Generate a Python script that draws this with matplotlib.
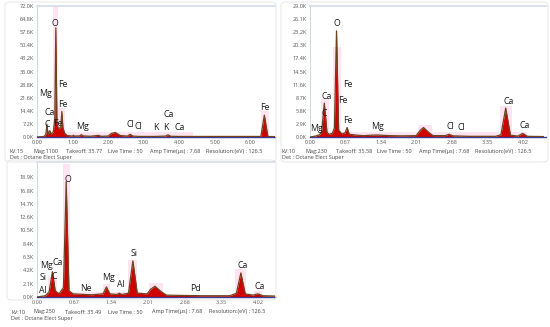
import matplotlib
matplotlib.use("Agg")
import matplotlib.pyplot as plt
from matplotlib.patches import FancyBboxPatch

plt.rcParams['font.family'] = ['Open Sans', 'DejaVu Sans']

# ---------------- data (energy keV, counts in thousands) ----------------
e1 = [0.0, 0.20, 0.25, 0.28, 0.31, 0.36, 0.40, 0.46, 0.50, 0.53, 0.56, 0.60, 0.64, 0.67, 0.70, 0.73,
      0.78, 0.85, 1.00, 1.02, 1.06, 1.20, 1.25, 1.30, 1.50, 1.74, 1.80, 2.00, 2.10, 2.20, 2.35, 2.55,
      2.62, 2.70, 2.90, 3.30, 3.62, 3.69, 3.76, 4.00, 5.00, 6.00, 6.30, 6.40, 6.50, 6.70]
c1 = [0.0, 0.3, 1.5, 7.0, 1.5, 3.5, 1.5, 3.0, 10.0, 60.0, 8.0, 4.5, 5.0, 5.5, 14.0, 5.0,
      2.0, 0.8, 0.5, 1.0, 0.5, 0.6, 1.3, 0.6, 0.4, 0.9, 0.4, 0.5, 2.0, 2.5, 0.8, 0.5,
      1.5, 0.5, 0.3, 0.3, 0.5, 1.2, 0.4, 0.3, 0.3, 0.3, 0.3, 12.0, 0.3, 0.2]

e2 = [0.0, 0.10, 0.18, 0.22, 0.27, 0.32, 0.36, 0.42, 0.46, 0.50, 0.54, 0.60, 0.66, 0.70, 0.74, 0.90,
      1.00, 1.25, 1.50, 1.74, 2.00, 2.08, 2.14, 2.24, 2.32, 2.55, 2.62, 2.70, 3.00, 3.50, 3.60, 3.69,
      3.78, 3.92, 4.01, 4.10, 4.40]
c2 = [0.0, 0.2, 0.5, 1.2, 7.5, 1.0, 0.6, 0.8, 2.0, 23.5, 1.5, 0.7, 0.9, 2.1, 0.6, 0.4,
      0.3, 0.45, 0.3, 0.25, 0.3, 1.5, 2.1, 1.0, 0.3, 0.3, 0.6, 0.25, 0.15, 0.15, 0.5, 6.4,
      0.4, 0.2, 0.8, 0.15, 0.1]

e3 = [0.0, 0.15, 0.22, 0.28, 0.33, 0.40, 0.48, 0.53, 0.58, 0.65, 0.85, 1.00, 1.20, 1.26, 1.32, 1.45,
      1.49, 1.54, 1.66, 1.74, 1.82, 2.00, 2.06, 2.14, 2.26, 2.35, 2.60, 3.00, 3.50, 3.62, 3.70, 3.78,
      3.92, 4.01, 4.10, 4.32]
c3 = [0.0, 0.2, 0.8, 4.0, 1.0, 0.5, 1.5, 18.2, 1.0, 0.5, 0.4, 0.35, 0.5, 1.6, 0.5, 0.4,
      0.6, 0.4, 0.6, 5.7, 0.6, 0.5, 1.2, 1.7, 0.8, 0.3, 0.25, 0.2, 0.2, 0.6, 3.8, 0.5,
      0.3, 0.5, 0.2, 0.15]

# y tick values (thousands)
yt1 = [0.0, 7.2, 14.4, 21.6, 28.8, 36.0, 43.2, 50.4, 57.6, 64.8, 72.0]
yt2 = [0.0, 2.9, 5.8, 8.7, 11.6, 14.5, 17.4, 20.3, 23.2, 26.1, 29.0]
yt3 = [0.0, 2.1, 4.2, 6.3, 8.4, 10.5, 12.6, 14.7, 16.8, 18.9]
xt1 = [0.00, 1.00, 2.00, 3.00, 4.00, 5.00, 6.00]
xt2 = [0.00, 0.67, 1.34, 2.01, 2.68, 3.35, 4.02]
xt3 = [0.00, 0.67, 1.34, 2.01, 2.68, 3.35, 4.02]

# peak labels: (text, keV, K)
lab1 = [("O", 0.50, 62.6), ("Mg", 0.23, 24.0), ("Fe", 0.74, 29.0), ("Ca", 0.37, 13.7),
        ("Fe", 0.72, 17.6), ("C", 0.28, 7.1), ("Fe", 0.60, 7.6), ("Mg", 1.27, 6.0),
        ("Cl", 2.63, 6.6), ("Cl", 2.85, 5.5), ("K", 3.34, 5.0), ("K", 3.62, 5.0),
        ("Ca", 3.72, 12.6), ("Ca", 4.03, 5.0), ("Fe", 6.42, 16.0)]
lab2 = [("O", 0.51, 25.2), ("Fe", 0.72, 11.7), ("Ca", 0.32, 8.9), ("Fe", 0.62, 8.0),
        ("C", 0.27, 5.1), ("Fe", 0.72, 3.6), ("Mg", 0.13, 1.9), ("Mg", 1.27, 2.4),
        ("Cl", 2.64, 2.4), ("Cl", 2.85, 2.2), ("Ca", 3.74, 7.8), ("Ca", 4.04, 2.5)]
lab3 = [("O", 0.56, 18.6), ("Mg", 0.18, 5.0), ("Ca", 0.37, 5.4), ("Si", 0.11, 3.0),
        ("C", 0.31, 3.2), ("Al", 0.11, 1.1), ("Ne", 0.89, 1.4), ("Mg", 1.29, 3.0),
        ("Al", 1.53, 1.9), ("Si", 1.77, 6.9), ("Pd", 2.87, 1.3), ("Ca", 3.73, 5.0),
        ("Ca", 4.05, 1.7)]

# ROI highlight bands: (x0, x1, top K)
roi1 = [(0.20, 4.40, 3.0), (0.45, 0.58, 72.0), (0.58, 0.78, 16.0), (6.30, 6.52, 14.5)]
roi2 = [(0.20, 4.10, 1.0), (0.20, 0.36, 8.5), (0.44, 0.58, 20.0), (2.04, 2.30, 2.6),
        (3.58, 3.80, 6.8), (3.94, 4.08, 1.2)]
roi3 = [(0.20, 1.90, 0.8), (0.20, 0.36, 3.2), (0.47, 0.60, 21.0), (1.20, 1.32, 2.0),
        (1.66, 1.82, 5.9), (2.04, 2.28, 2.2), (3.60, 3.80, 4.4), (3.94, 4.08, 0.9)]

info1 = ["kV:15", "Mag:1100", "Takeoff: 35.77", "Live Time : 50", "Amp Time(µs) : 7.68", "Resolution:(eV) : 126.5"]
info2 = ["kV:10", "Mag:230", "Takeoff: 35.58", "Live Time : 50", "Amp Time(µs) : 7.68", "Resolution:(eV) : 126.5"]
info3 = ["kV:10", "Mag:250", "Takeoff: 35.49", "Live Time : 50", "Amp Time(µs) : 7.68", "Resolution:(eV) : 126.5"]
det = "Det : Octane Elect Super"

W, H = 550, 327
fig = plt.figure(figsize=(5.5, 3.27), dpi=100)
fig.patch.set_facecolor("white")


def fx(px):
    return px / W


def fy(py):
    return 1 - py / H


# outer frames
for (x0, y0, x1, y1) in [(5, 2, 276, 162), (281, 2, 548, 162), (7, 160, 276, 300)]:
    fig.patches.append(FancyBboxPatch((fx(x0), fy(y1)), fx(x1 - x0), (y1 - y0) / H,
                                      boxstyle="round,pad=0,rounding_size=0.01",
                                      transform=fig.transFigure, fill=False,
                                      ec="#e4e4e4", lw=0.6, zorder=0))


def panel(rect, e, c, xt, yt, xmax, ytop, labels, rois, info, info_x, info_y):
    ax = fig.add_axes(rect)
    ax.set_xlim(0, xmax)
    ax.set_ylim(0, ytop)
    for (a, b, h) in rois:
        ax.fill_between([a, b], 0, [h, h], color="#fde4f0", lw=0, zorder=1)
    ax.fill_between(e, 0, c, color="#d00000", lw=0, zorder=2)
    ax.plot(e, c, color="#6e4420", lw=0.9, zorder=3)
    ax.set_xticks(xt)
    ax.set_xticklabels([f"{v:.2f}" for v in xt])
    ax.set_yticks(yt)
    ax.set_yticklabels([f"{v:.1f}K" for v in yt])
    ax.tick_params(axis="both", length=0, labelsize=4, colors="#555555", pad=2)
    ax.spines["right"].set_visible(False)
    ax.spines["top"].set_color("#d3dcea")
    ax.spines["top"].set_linewidth(1.2)
    ax.spines["left"].set_color("#c8d0dc")
    ax.spines["left"].set_linewidth(0.6)
    ax.spines["bottom"].set_color("#3c3c90")
    ax.spines["bottom"].set_linewidth(1.0)
    for (t, x, y) in labels:
        ax.text(x, y, t, fontsize=6.3, ha="center", va="center", color="#1a1a1a", zorder=4)
    for t, px in zip(info, info_x):
        fig.text(fx(px), fy(info_y), t, fontsize=4, color="#444444", ha="left", va="center")
    fig.text(fx(info_x[0]), fy(info_y + 6.5), det, fontsize=4, color="#444444", ha="left", va="center")
    return ax


panel([fx(37), fy(137), fx(275 - 37), 131 / H], e1, c1, xt1, yt1, 6.70, 72.0,
      lab1, roi1, info1, [10, 33, 66, 108, 150, 206], 151)
panel([fx(310), fy(137), fx(546 - 310), 131 / H], e2, c2, xt2, yt2, 4.45, 29.0,
      lab2, roi2, info2, [282, 306, 336, 377, 419, 475], 151)
panel([fx(37), fy(297), fx(275 - 37), 135 / H], e3, c3, xt3, yt3, 4.32, 21.3,
      lab3, roi3, info3, [11, 33, 65, 108, 152, 209], 312)

fig.savefig("out.png", dpi=100)
